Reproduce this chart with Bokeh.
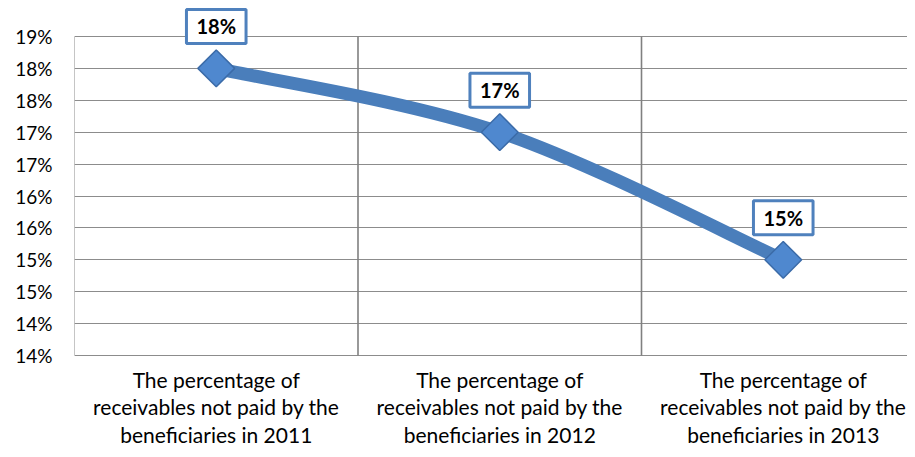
import numpy as np
from bokeh.plotting import figure
from bokeh.models import Range1d, FixedTicker, Label, ColumnDataSource
from bokeh.core.properties import value
from bokeh.embed import file_html
from bokeh.resources import INLINE

categories = [
    "The percentage of\nreceivables not paid by the\nbeneficiaries in 2011",
    "The percentage of\nreceivables not paid by the\nbeneficiaries in 2012",
    "The percentage of\nreceivables not paid by the\nbeneficiaries in 2013",
]
values = [18.5, 17.5, 15.5]
value_labels = ["18%", "17%", "15%"]
y_ticks = [14.0, 14.5, 15.0, 15.5, 16.0, 16.5, 17.0, 17.5, 18.0, 18.5, 19.0]
y_tick_labels = ["14%", "14%", "15%", "15%", "16%", "16%", "17%", "17%", "18%", "18%", "19%"]

FONT = "Lato"
BLUE = "#4A7EBB"
GRID = "#8C8C8C"

W, H = 907, 449
LEFT, TOP_GAP, AXIS_Y = 74, 36, 355
CAT_W = 283.5
frame_w = W - LEFT
y_lo, y_hi = min(y_ticks), max(y_ticks)
px_per_unit = (AXIS_Y - TOP_GAP) / (y_hi - y_lo)

xs = [i + 0.5 for i in range(len(values))]

p = figure(width=W, height=H, output_backend="svg", toolbar_location=None,
           x_range=Range1d(0, frame_w / CAT_W),
           y_range=Range1d(y_lo - (H - AXIS_Y) / px_per_unit, y_hi + TOP_GAP / px_per_unit),
           min_border_left=LEFT, min_border_right=0, min_border_top=0,
           min_border_bottom=0)
p.outline_line_color = None
p.background_fill_color = "white"

# y axis
p.yaxis.ticker = FixedTicker(ticks=y_ticks)
p.yaxis.major_label_overrides = {t: l for t, l in zip(y_ticks, y_tick_labels)}
p.yaxis.major_label_text_font = FONT
p.yaxis.major_label_text_font_size = "19px"
p.yaxis.major_label_text_color = "#000000"
p.yaxis.major_tick_line_color = None
p.yaxis.major_tick_out = 0
p.yaxis.minor_tick_line_color = None
p.yaxis.minor_tick_out = 0
p.yaxis.axis_line_color = None
p.yaxis.major_label_standoff = 22
p.xaxis.visible = False

p.ygrid.ticker = FixedTicker(ticks=y_ticks)
p.ygrid.grid_line_color = GRID
p.xgrid.visible = False

# left border and category separators (only within the value range)
p.segment(x0=[0], y0=[y_lo], x1=[0], y1=[y_hi], line_color=GRID, line_width=1)
sep_x = list(range(1, len(values)))
p.segment(x0=sep_x, y0=[y_lo] * len(sep_x), x1=sep_x, y1=[y_hi] * len(sep_x),
          line_color="#808080", line_width=1.6)

# category labels under the axis
cat_src = ColumnDataSource(dict(x=xs, y=[y_lo] * len(xs), t=categories))
p.text(x="x", y="y", text="t", source=cat_src, y_offset=11,
       text_font=value(FONT), text_font_size="21px", text_color="#000000",
       text_align="center", text_baseline="top", text_line_height=1.1)

# smoothed line (Catmull-Rom bezier through data points)
px = np.array(xs)
py = np.array(values)
n = len(px)
x0, y0, x1, y1, cx0, cy0, cx1, cy1 = [], [], [], [], [], [], [], []
for i in range(n - 1):
    im = max(i - 1, 0)
    ip2 = min(i + 2, n - 1)
    x0.append(px[i]); y0.append(py[i])
    x1.append(px[i + 1]); y1.append(py[i + 1])
    cx0.append(px[i] + (px[i + 1] - px[im]) / 6)
    cy0.append(py[i] + (py[i + 1] - py[im]) / 6)
    cx1.append(px[i + 1] - (px[ip2] - px[i]) / 6)
    cy1.append(py[i + 1] - (py[ip2] - py[i]) / 6)
p.bezier(x0=x0, y0=y0, x1=x1, y1=y1, cx0=cx0, cy0=cy0, cx1=cx1, cy1=cy1,
         line_color=BLUE, line_width=13)

# diamond markers
p.scatter(xs, values, marker="square", size=26, angle=np.pi / 4,
          fill_color="#4F88CF", line_color="#3B6BA8", line_width=1.5)

# data labels
for x, y, t in zip(xs, values, value_labels):
    p.add_layout(Label(x=x, y=y, text=t, y_offset=42,
                       text_font=FONT, text_font_style="bold", text_font_size="20px",
                       text_align="center", text_baseline="middle", text_color="#000000",
                       background_fill_color="white", border_line_color="#4F81BD",
                       border_line_width=3, padding=(10, 5)))

open("out.html", "w").write(file_html(p, INLINE))
